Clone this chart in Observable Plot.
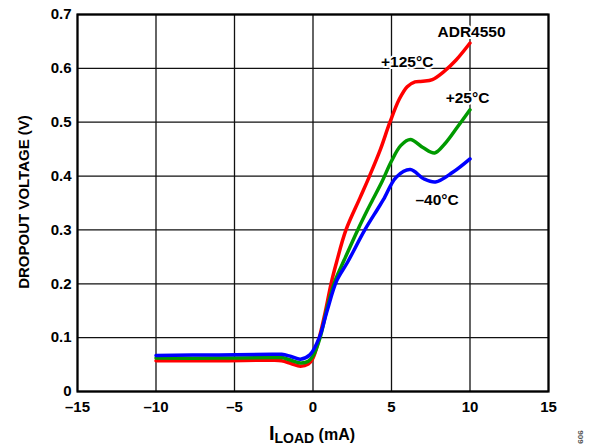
<!DOCTYPE html>
<html>
<head>
<meta charset="utf-8">
<script src="https://cdn.jsdelivr.net/npm/d3@7"></script>
<script src="https://cdn.jsdelivr.net/npm/@observablehq/plot@0.6"></script>
<style>
  html, body { margin: 0; padding: 0; background: #fff; }
  #chart { width: 595px; height: 447px; }
</style>
</head>
<body>
<div id="chart"></div>
<script>
// Data (x = I_LOAD in mA, y = dropout voltage in V)
const red125 = [[-10,0.057],[-6,0.057],[-2.6,0.058],[-2,0.057],[-1.4,0.052],[-0.8,0.047],[-0.3,0.051],[0,0.062],[0.4,0.1],[0.8,0.15],[1.15,0.2],[1.5,0.24],[2.1,0.3],[3.0,0.36],[3.6,0.4],[4.3,0.45],[4.9,0.5],[5.5,0.543],[6.0,0.566],[6.5,0.575],[7.0,0.576],[7.6,0.579],[8.3,0.593],[9.1,0.615],[10,0.647]];
const green25 = [[-10,0.062],[-6,0.062],[-2.6,0.063],[-2,0.063],[-1.4,0.058],[-0.8,0.053],[-0.3,0.056],[0,0.066],[0.45,0.1],[0.9,0.155],[1.4,0.205],[2.0,0.245],[2.85,0.3],[3.45,0.336],[3.8,0.356],[4.4,0.39],[5.0,0.428],[5.6,0.457],[6.2,0.468],[7.0,0.453],[7.75,0.443],[8.4,0.46],[9.2,0.491],[10,0.523]];
const blueM40 = [[-10,0.067],[-6,0.068],[-2.6,0.069],[-2,0.069],[-1.4,0.065],[-0.8,0.06],[-0.2,0.068],[0.4,0.1],[0.9,0.15],[1.5,0.205],[2.2,0.24],[3.3,0.3],[4.1,0.338],[4.5,0.357],[5.3,0.398],[6.2,0.412],[7.05,0.395],[7.8,0.389],[8.9,0.407],[10,0.432]];

const xTicks = [-15,-10,-5,0,5,10,15];
const yTicks = [0,0.1,0.2,0.3,0.4,0.5,0.6,0.7];

const labels = [
  {x: 10.1, y: 0.668, text: "ADR4550", anchor: "start"},
  {x: 6.0, y: 0.611, text: "+125°C", anchor: "middle"},
  {x: 9.84, y: 0.544, text: "+25°C", anchor: "start"},
  {x: 7.9, y: 0.355, text: "–40°C", anchor: "middle"}
];

const toRows = (arr) => arr.map(([x, y]) => ({x, y}));
const fmtX = d => d < 0 ? "–" + Math.abs(d) : String(d);
const fmtY = d => d === 0 ? "0" : d.toFixed(1);
const FONT = "'Liberation Sans', Arial, sans-serif";

const plot = Plot.plot({
  width: 595,
  height: 447,
  marginLeft: 77,
  marginRight: 47,
  marginTop: 14,
  marginBottom: 56,
  style: {fontFamily: FONT, fontSize: "15px", fontWeight: "bold", color: "#000", background: "#fff"},
  x: {domain: [-15, 15]},
  y: {domain: [0, 0.7]},
  marks: [
    Plot.gridX(xTicks, {stroke: "#111", strokeOpacity: 1, strokeWidth: 1.3}),
    Plot.gridY(yTicks, {stroke: "#111", strokeOpacity: 1, strokeWidth: 1.3}),
    Plot.frame({stroke: "#000", strokeWidth: 2.2}),
    Plot.line(toRows(red125), {x: "x", y: "y", stroke: "#ff0000", strokeWidth: 3.5, curve: "catmull-rom"}),
    Plot.line(toRows(green25), {x: "x", y: "y", stroke: "#009a00", strokeWidth: 3.5, curve: "catmull-rom"}),
    Plot.line(toRows(blueM40), {x: "x", y: "y", stroke: "#0000ff", strokeWidth: 3.5, curve: "catmull-rom"}),
    Plot.text(labels, {x: "x", y: "y", text: "text", textAnchor: d => d.anchor, fill: "#000", stroke: "#fff", strokeWidth: 4, fontSize: 15.5, fontWeight: "bold"}),
    Plot.axisX(xTicks, {tickSize: 0, tickPadding: 10, label: null, fontSize: 15, fontWeight: "bold", tickFormat: fmtX}),
    Plot.axisY(yTicks, {tickSize: 0, tickPadding: 6, label: null, fontSize: 15, fontWeight: "bold", tickFormat: fmtY})
  ]
});

document.getElementById("chart").appendChild(plot);

const svg = d3.select(plot);
// Y axis title
svg.append("text")
  .attr("transform", "translate(29,202) rotate(-90)")
  .attr("text-anchor", "middle")
  .attr("font-family", FONT)
  .attr("font-size", 15)
  .attr("font-weight", "bold")
  .attr("fill", "#000")
  .text("DROPOUT VOLTAGE (V)");

// X axis title with subscript
const xt = svg.append("text")
  .attr("x", 312)
  .attr("y", 440)
  .attr("text-anchor", "middle")
  .attr("font-family", FONT)
  .attr("font-weight", "bold")
  .attr("fill", "#000");
xt.append("tspan").attr("font-size", 20).text("I");
xt.append("tspan").attr("font-size", 14).attr("dy", 3).text("LOAD");
xt.append("tspan").attr("font-size", 16).attr("dy", -3).text(" (mA)");

// Figure number
svg.append("text")
  .attr("transform", "translate(583,437) rotate(-90)")
  .attr("text-anchor", "middle")
  .attr("font-family", FONT)
  .attr("font-size", 8)
  .attr("fill", "#555")
  .text("606");
</script>
</body>
</html>
